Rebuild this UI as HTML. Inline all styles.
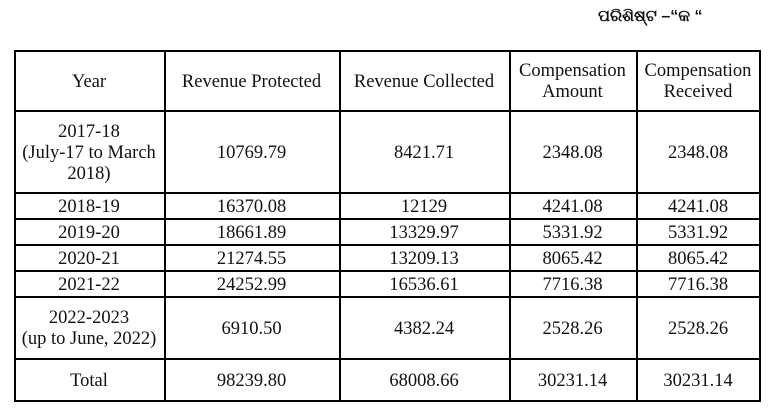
<!DOCTYPE html>
<html><head><meta charset="utf-8"><style>
body{margin:0;width:773px;height:418px;background:#fff;position:relative;overflow:hidden;font-family:"Liberation Serif",serif;color:#111}
.t{position:absolute;left:598px;top:8px;font:bold 16px "Liberation Sans",sans-serif}
.h,.v{position:absolute;background:#000}
.h{height:1.5px;left:14px;width:746px}
.v{width:1.5px;top:50px;height:352px}
.c{position:absolute;display:flex;align-items:center;justify-content:center;text-align:center;font-size:18.5px;line-height:21px;padding-top:2px;box-sizing:border-box}
</style></head><body>
<div class="t">ପରିଶିଷ୍ଟ –“କ “</div>
<div class="h" style="top:50px"></div><div class="h" style="top:110px"></div><div class="h" style="top:192px"></div><div class="h" style="top:218px"></div><div class="h" style="top:244px"></div><div class="h" style="top:270px"></div><div class="h" style="top:296px"></div><div class="h" style="top:358px"></div><div class="h" style="top:400px"></div>
<div class="v" style="left:14px"></div><div class="v" style="left:164px"></div><div class="v" style="left:339px"></div><div class="v" style="left:509px"></div><div class="v" style="left:636px"></div><div class="v" style="left:759px"></div>
<div id="g"></div>
<script>
const xs=[14,164,339,509,636,760],ys=[51,111,193,219,245,271,297,359,401];
const rows=[["Year","Revenue Protected","Revenue Collected","Compensation<br>Amount","Compensation<br>Received"],
["2017-18<br>(July-17 to March<br>2018)","10769.79","8421.71","2348.08","2348.08"],
["2018-19","16370.08","12129","4241.08","4241.08"],
["2019-20","18661.89","13329.97","5331.92","5331.92"],
["2020-21","21274.55","13209.13","8065.42","8065.42"],
["2021-22","24252.99","16536.61","7716.38","7716.38"],
["2022-2023<br>(up to June, 2022)","6910.50","4382.24","2528.26","2528.26"],
["Total","98239.80","68008.66","30231.14","30231.14"]];
let h="";rows.forEach((r,i)=>r.forEach((t,j)=>{h+=`<div class="c" style="left:${xs[j]}px;width:${xs[j+1]-xs[j]}px;top:${ys[i]}px;height:${ys[i+1]-ys[i]}px">${t}</div>`}));
document.getElementById("g").innerHTML=h;
</script>
</body></html>
